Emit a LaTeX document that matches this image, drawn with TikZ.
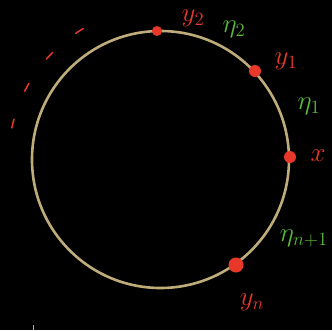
\documentclass[tikz,border=0pt]{standalone}
\usepackage{tikz}
\definecolor{ring}{RGB}{190,172,122}
\definecolor{redpt}{RGB}{232,56,42}
\definecolor{greenlab}{RGB}{92,186,58}
\tikzset{
  pt/.style={circle,fill=redpt,inner sep=0pt,minimum size=#1},
  rlab/.style={text=redpt,font=\huge,scale=1.3,inner sep=1pt},
  glab/.style={text=greenlab,font=\huge,scale=1.3,inner sep=1pt},
}
\begin{document}
\begin{tikzpicture}[x=1pt,y=-1pt]
\fill[black] (0,0) rectangle (332,330);
\useasboundingbox (0,0) rectangle (332,330);
\coordinate (c) at (160.5,159.5);
\draw[ring,line width=2.6pt] (c) circle[radius=128.5];
% dashed arc
\draw[redpt,line width=1.5pt,line cap=round,dash pattern=on 9pt off 30pt,dash phase=0pt]
  (c) ++(-168:152) arc[start angle=-168,end angle=-118,radius=152];
% points
\node[pt=10pt] (y2) at (157,31) {};
\node[pt=12pt] (y1) at (255,71) {};
\node[pt=12pt] (x) at (290,157) {};
\node[pt=15pt] (yn) at (236,265) {};
% labels
\node[rlab] (ly2) at (193,18) {$y_2$};
\node[glab] (le2) at (234,29) {$\eta_2$};
\node[rlab] (ly1) at (286,61) {$y_1$};
\node[glab] (le1) at (309,106) {$\eta_1$};
\node[rlab] (lx) at (318,156) {$x$};
\node[glab] (len) at (304,238) {$\eta_{n+1}$};
\node[rlab] (lyn) at (252,302) {$y_n$};
% small tick
\draw[ring,line width=1pt] (33,325) -- (33,330);
\end{tikzpicture}
\end{document}
